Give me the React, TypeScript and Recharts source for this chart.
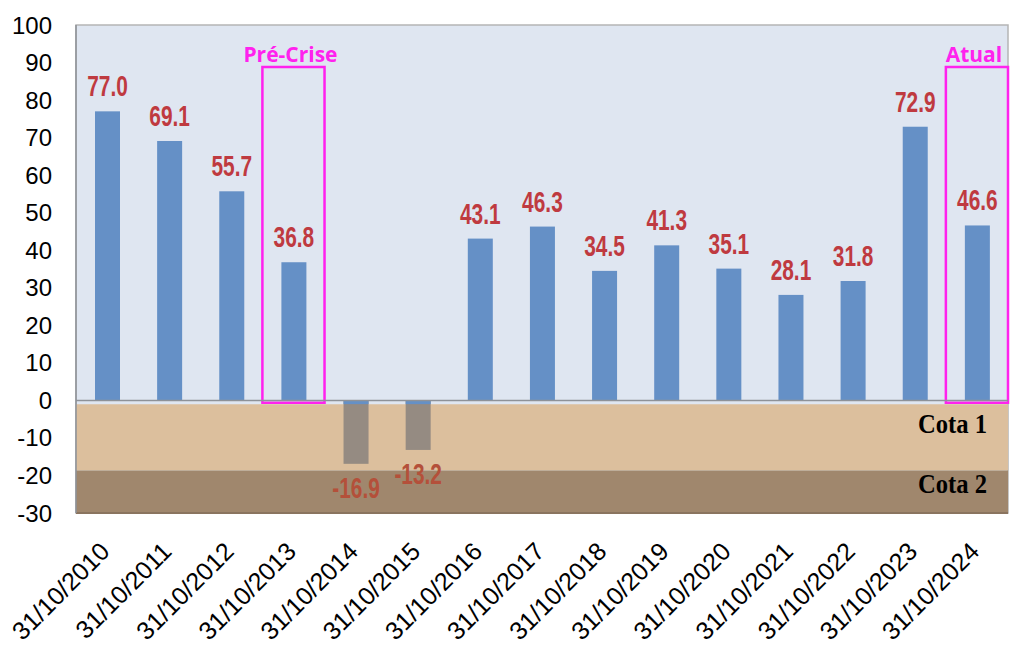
import { BarChart, Bar, XAxis, YAxis, ReferenceArea, ReferenceLine, LabelList } from 'recharts';

const dates = [
  '31/10/2010', '31/10/2011', '31/10/2012', '31/10/2013', '31/10/2014',
  '31/10/2015', '31/10/2016', '31/10/2017', '31/10/2018', '31/10/2019',
  '31/10/2020', '31/10/2021', '31/10/2022', '31/10/2023', '31/10/2024',
];
const values = [77.0, 69.1, 55.7, 36.8, -16.9, -13.2, 43.1, 46.3, 34.5, 41.3, 35.1, 28.1, 31.8, 72.9, 46.6];
const yTicks = [-30, -20, -10, 0, 10, 20, 30, 40, 50, 60, 70, 80, 90, 100];

// faixas de cota
const cota1 = [-18.7, -1];
const cota2 = [-30, -18.7];
const highlights = [
  { date: '31/10/2013', label: 'Pré-Crise' },
  { date: '31/10/2024', label: 'Atual' },
];

const data = dates.map((date, i) => ({ date, value: values[i] }));

const XTick = ({ x, y, payload }: any) => (
  <g transform={`translate(${x + 4},${y + 40})`}>
    <text
      textAnchor="end"
      transform="rotate(-45)"
      fontSize={25}
      fontFamily="'Liberation Sans', Arial, sans-serif"
      fill="#000"
    >
      {payload.value}
    </text>
  </g>
);

const BarShape = (props: any) => {
  const { x, y, width, height, value } = props;
  const top = Math.min(y, y + height);
  const h = Math.abs(height);
  if (value >= 0) {
    return <rect x={x} y={top} width={width} height={h} fill="#6590c6" />;
  }
  const cap = h / Math.abs(value); // 1 unit of blue above the band
  return (
    <g>
      <rect x={x} y={top} width={width} height={h} fill="#958b82" />
      <rect x={x} y={top} width={width} height={cap} fill="#6590c6" />
    </g>
  );
};

const ValueLabel = (props: any) => {
  const { x, y, width, height, value } = props;
  const top = Math.min(y, y + height);
  const bottom = Math.max(y, y + height);
  const neg = value < 0;
  const ty = neg ? bottom + 34 : top - 15;
  return (
    <text
      transform={`translate(${x + width / 2},${ty}) scale(0.72,1)`}
      textAnchor="middle"
      fontSize={29}
      fontWeight="bold"
      fontFamily="'Liberation Sans', Arial, sans-serif"
      fill={neg ? '#b4503a' : '#bf3a40'}
    >
      {value.toFixed(1)}
    </text>
  );
};

const HighlightLabel = ({ viewBox, text }: any) => (
  <text
    x={viewBox.x + viewBox.width / 2 - 3}
    y={viewBox.y - 5}
    textAnchor="middle"
    fontSize={21}
    fontWeight="bold"
    fontFamily="'Open Sans', sans-serif"
    fill="#ff22ee"
  >
    {text}
  </text>
);

const CotaLabel = ({ viewBox, text, dy }: any) => (
  <text
    x={viewBox.x + viewBox.width - 90}
    y={viewBox.y + dy}
    textLength={69}
    lengthAdjust="spacingAndGlyphs"
    fontSize={27}
    fontWeight="bold"
    fontFamily="'Liberation Serif', serif"
    fill="#000"
  >
    {text}
  </text>
);

const App = () => {
  return (
    <div style={{ position: 'absolute', left: 0, top: 0, background: '#fff' }}>
      <BarChart
        width={1012}
        height={656}
        data={data}
        margin={{ top: 25, right: 4, left: 0, bottom: 3 }}
        barSize={25}
      >
        <ReferenceArea y1={-30} y2={100} fill="#dfe6f1" fillOpacity={1} stroke="#b5b5b5" strokeWidth={1.5} />
        <ReferenceArea
          y1={cota1[0]}
          y2={cota1[1]}
          fill="#dcbf9d"
          fillOpacity={1}
          label={<CotaLabel text="Cota 1" dy={29} />}
        />
        <ReferenceArea
          y1={cota2[0]}
          y2={cota2[1]}
          fill="#a0876d"
          fillOpacity={1}
          label={<CotaLabel text="Cota 2" dy={22} />}
        />
        <ReferenceLine y={-30} stroke="#8a745f" strokeWidth={2} />
        <ReferenceLine y={0} stroke="#8e9299" strokeWidth={1.5} />
        <XAxis
          dataKey="date"
          axisLine={false}
          tickLine={false}
          tickSize={0}
          tickMargin={0}
          height={140}
          interval={0}
          tick={<XTick />}
        />
        <YAxis
          domain={[-30, 100]}
          ticks={yTicks}
          interval={0}
          width={76}
          tickLine={false}
          tickSize={0}
          tickMargin={24}
          axisLine={{ stroke: '#8e9299', strokeWidth: 1.5 }}
          tick={{ fontSize: 24, fill: '#000', fontFamily: "'Liberation Sans', Arial, sans-serif" }}
        />
        <Bar dataKey="value" shape={<BarShape />} isAnimationActive={false}>
          <LabelList dataKey="value" content={<ValueLabel />} />
        </Bar>
        {highlights.map((h) => (
          <ReferenceArea
            key={h.date}
            x1={h.date}
            x2={h.date}
            y1={-0.6}
            y2={88.8}
            fill="none"
            stroke="#ff22ee"
            strokeWidth={2.5}
            label={<HighlightLabel text={h.label} />}
          />
        ))}
      </BarChart>
    </div>
  );
};

export default App;
